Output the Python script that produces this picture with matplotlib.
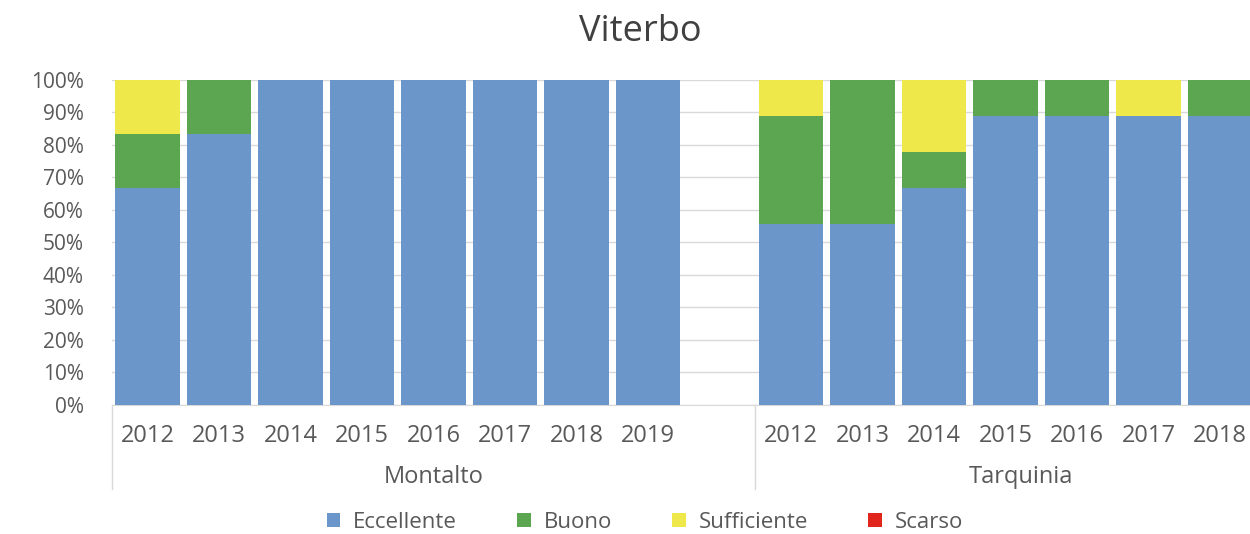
import numpy as np
import matplotlib
matplotlib.use("Agg")
import matplotlib.pyplot as plt

plt.rcParams['font.family'] = ['Open Sans', 'DejaVu Sans']

title = "Viterbo"
groups = ["Montalto", "Tarquinia"]
years_montalto = ["2012", "2013", "2014", "2015", "2016", "2017", "2018", "2019"]
years_tarquinia = ["2012", "2013", "2014", "2015", "2016", "2017", "2018"]

# percentages
ecc_montalto = [66.7, 83.3, 100, 100, 100, 100, 100, 100]
buo_montalto = [16.7, 16.7, 0, 0, 0, 0, 0, 0]
suf_montalto = [16.7, 0, 0, 0, 0, 0, 0, 0]
sca_montalto = [0, 0, 0, 0, 0, 0, 0, 0]

ecc_tarquinia = [55.6, 55.6, 66.7, 88.9, 88.9, 88.9, 88.9]
buo_tarquinia = [33.3, 44.4, 11.1, 11.1, 11.1, 0, 11.1]
suf_tarquinia = [11.1, 0, 22.2, 0, 0, 11.1, 0]
sca_tarquinia = [0, 0, 0, 0, 0, 0, 0]

series = ["Eccellente", "Buono", "Sufficiente", "Scarso"]
colors = ["#6b96c9", "#5ca551", "#efe84a", "#e0261c"]

# positions: Montalto slots 0..7, blank slot 8, Tarquinia from 9
x_m = np.arange(len(years_montalto))
x_t = np.arange(len(years_tarquinia)) + len(years_montalto) + 1
x = np.concatenate([x_m, x_t])
labels = years_montalto + years_tarquinia
data = [np.array(ecc_montalto + ecc_tarquinia),
        np.array(buo_montalto + buo_tarquinia),
        np.array(suf_montalto + suf_tarquinia),
        np.array(sca_montalto + sca_tarquinia)]

fig = plt.figure(figsize=(12.5, 5.34), dpi=100)
ax = fig.add_axes([0.0894, 0.2416, 0.9106, 0.6086])

bottom = np.zeros(len(x))
for name, vals, c in zip(series, data, colors):
    ax.bar(x, vals, 0.905, bottom=bottom, color=c, label=name, zorder=3)
    bottom += vals

txt = "#595959"
ax.set_xlim(-0.5, 15.42)
ax.set_ylim(0, 100)
ax.set_yticks(np.arange(0, 101, 10))
ax.set_yticklabels([f"{v}%" for v in range(0, 101, 10)], color=txt, fontsize=15)
ax.yaxis.grid(True, color="#d9d9d9", linewidth=1, zorder=0)
ax.tick_params(axis="y", length=0, pad=20)
ax.tick_params(axis="x", length=0, pad=14)
ax.set_xticks(x)
ax.set_xticklabels(labels, color=txt, fontsize=17)
for s in ["top", "right", "left"]:
    ax.spines[s].set_visible(False)
ax.spines["bottom"].set_color("#d9d9d9")

# group separators and labels
trans = ax.get_xaxis_transform()
for xs in [-0.5, len(years_montalto) + 0.5]:
    ax.plot([xs, xs], [0, -0.26], color="#d9d9d9", lw=1, transform=trans, clip_on=False)
ax.text(-0.5 + (len(years_montalto) + 1) / 2, -0.222, groups[0], transform=trans,
        ha="center", va="center", color=txt, fontsize=17)
ax.text(12.22, -0.222, groups[1], transform=trans,
        ha="center", va="center", color=txt, fontsize=17)

fig.text(0.512, 0.94, title, ha="center", va="center", fontsize=26, color="#404040")

fig.legend(loc="center", bbox_to_anchor=(0.516, 0.022), ncol=4, frameon=False,
           fontsize=16, handlelength=0.6, handleheight=0.6, handletextpad=0.6,
           columnspacing=2.7, labelcolor=txt)

fig.savefig("out.png", dpi=100)
